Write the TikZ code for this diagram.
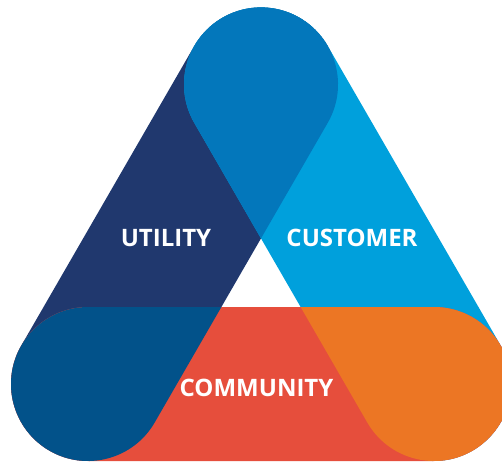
\documentclass[tikz,border=0pt]{standalone}
\usepackage{fontspec}
\setmainfont{Open Sans}
\usetikzlibrary{calc}

\definecolor{utilnavy}{HTML}{20386E}
\definecolor{custblue}{HTML}{00A0DC}
\definecolor{commred}{HTML}{E64E3C}
\definecolor{topblue}{HTML}{0377BB}
\definecolor{leftblue}{HTML}{02528A}
\definecolor{rightorange}{HTML}{EC7624}

\newcommand{\barpath}[3]{($(#1)+(#3+90:77pt)$) -- ($(#2)+(#3+90:77pt)$)
    arc[start angle=#3+90, delta angle=-180, radius=77pt]
    -- ($(#1)+(#3-90:77pt)$) arc[start angle=#3-90, delta angle=-180, radius=77pt] -- cycle}

\begin{document}
\begin{tikzpicture}[x=1pt, y=1pt,
        lbl/.style={text=white, font=\fontsize{24}{28}\selectfont\bfseries, inner sep=0}
    ]
    \useasboundingbox (0,0) rectangle (502,461);
    \coordinate (T) at (261,376.6);
    \coordinate (L) at (88,77);
    \coordinate (R) at (434,77);
    \fill[utilnavy] \barpath{T}{L}{240};
    \fill[custblue] \barpath{T}{R}{300};
    \fill[commred] \barpath{L}{R}{0};
    \begin{scope}
        \clip \barpath{T}{L}{240};
        \fill[topblue] \barpath{T}{R}{300};
        \fill[leftblue] \barpath{L}{R}{0};
    \end{scope}
    \begin{scope}
        \clip \barpath{T}{R}{300};
        \fill[rightorange] \barpath{L}{R}{0};
    \end{scope}
    \node[lbl] (utility) at (166,223) {UTILITY};
    \node[lbl] (customer) at (352,223) {CUSTOMER};
    \node[lbl] (community) at (256.5,73.5) {COMMUNITY};
\end{tikzpicture}
\end{document}
